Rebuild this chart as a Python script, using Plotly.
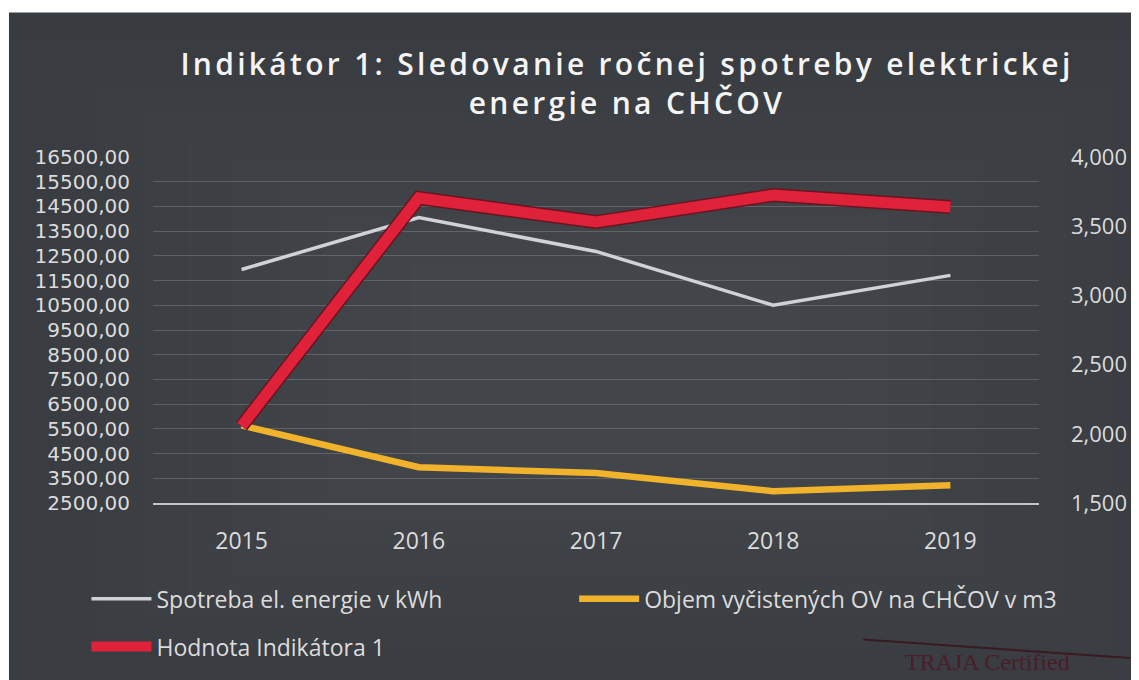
import plotly.graph_objects as go

# ---- data ----
years = ["2015", "2016", "2017", "2018", "2019"]
spotreba_kwh = [11950, 14050, 12680, 10500, 11710]
objem_m3 = [5640, 3950, 3710, 2980, 3220]
indikator = [2.056, 3.704, 3.530, 3.725, 3.639]

left_ticks = list(range(2500, 16501, 1000))
right_ticks = [1.5, 2.0, 2.5, 3.0, 3.5, 4.0]

name_spotreba = "Spotreba el. energie v kWh"
name_objem = "Objem vyčistených OV na CHČOV v m3"
name_ind = "Hodnota Indikátora 1"
title_line1 = "Indikátor 1: Sledovanie ročnej spotreby elektrickej"
title_line2 = "energie na CHČOV"

# ---- layout geometry (figure pixels; page adds an 8px body margin) ----
W, H = 1131, 672
L, R, T, B = 145, 1037, 149, 496
PW, PH = R - L, B - T


def fx(px):
    return (px - L) / PW


def fy(py):
    return (B - py) / PH


FONT = "Open Sans"
TXT = "#dcdcdc"
FS = 23

fig = go.Figure()

fig.add_trace(go.Scatter(
    x=years, y=spotreba_kwh, name=name_spotreba, mode="lines",
    line=dict(color="#cfd2d8", width=3.5), legend="legend"))

fig.add_trace(go.Scatter(
    x=years, y=objem_m3, name=name_objem, mode="lines",
    line=dict(color="#f1b32b", width=6.5), legend="legend2"))

# dark edge under the red line
fig.add_trace(go.Scatter(
    x=years, y=indikator, yaxis="y2", mode="lines", showlegend=False,
    hoverinfo="skip", line=dict(color="#6b1420", width=14)))

fig.add_trace(go.Scatter(
    x=years, y=indikator, name=name_ind, mode="lines", yaxis="y2",
    line=dict(color="#df2139", width=11), legend="legend3"))

shapes = [
    # dark chalkboard background (white scan border at top/left)
    dict(type="rect", xref="paper", yref="paper",
         x0=fx(0), x1=fx(W + 10), y0=fy(H + 10), y1=fy(4),
         fillcolor="#383b3f", line=dict(width=0), layer="below"),
]
# soft lighter centre (vignette), built from many faint nested rectangles
cx, cy = 600, 360
for i in range(10):
    hw = 600 - i * 45
    hh = 330 - i * 25
    shapes.append(dict(
        type="rect", xref="paper", yref="paper",
        x0=fx(cx - hw), x1=fx(cx + hw), y0=fy(cy + hh), y1=fy(cy - hh),
        fillcolor="rgba(255,255,255,0.009)", line=dict(width=0),
        layer="below"))
# stamp line (bottom right)
shapes.append(dict(type="line", xref="paper", yref="paper",
                   x0=fx(860), y0=fy(633), x1=fx(W + 5), y1=fy(652),
                   line=dict(color="#3a1a22", width=2), layer="above"))

title_html = ('<span style="letter-spacing:3.3px">' + title_line1 +
              '<br>' + title_line2 + '</span>')

legend_common = dict(orientation="h", xanchor="left", yanchor="middle",
                     itemwidth=60, bgcolor="rgba(0,0,0,0)",
                     font=dict(family=FONT, size=FS, color=TXT))

fig.update_layout(
    width=W, height=H,
    margin=dict(l=L, r=W - R, t=T, b=H - B, pad=0),
    paper_bgcolor="white",
    plot_bgcolor="rgba(0,0,0,0)",
    separators=",.",
    font=dict(family=FONT, color=TXT, size=FS),
    title=dict(
        text=title_html, xref="container", yref="container",
        x=619 / W, xanchor="center", y=1 - 67 / H, yanchor="top",
        font=dict(family=FONT, size=30, color="#f4f4f4", weight=600)),
    xaxis=dict(
        type="category", range=[-0.5, 4.5], showgrid=False, zeroline=False,
        showline=True, linecolor="#c4c4c4", linewidth=2,
        ticks="", ticklabelstandoff=16,
        tickfont=dict(family=FONT, size=FS, color=TXT)),
    yaxis=dict(
        range=[2500, 16500], tickvals=left_ticks, tickformat=".2f",
        showgrid=True, gridcolor="rgba(215,215,215,0.22)", gridwidth=1,
        zeroline=False, showline=False, ticks="", ticklabelstandoff=22,
        tickfont=dict(family="DejaVu Sans", size=20, color=TXT)),
    yaxis2=dict(
        range=[1.5, 4.0], tickvals=right_ticks, tickformat=".3f",
        overlaying="y", side="right", showgrid=False, zeroline=False,
        showline=False, ticks="", ticklabelstandoff=31,
        tickfont=dict(family=FONT, size=22, color=TXT)),
    legend=dict(x=fx(78), y=fy(592), **legend_common),
    legend2=dict(x=fx(569), y=fy(592), **legend_common),
    legend3=dict(x=fx(78), y=fy(640), **legend_common),
    shapes=shapes,
    annotations=[
        dict(text="TRAJA Certified", xref="paper", yref="paper",
             x=fx(900), y=fy(671), xanchor="left", yanchor="bottom",
             showarrow=False,
             font=dict(family="Liberation Serif", size=24, color="#4a1d28")),
    ],
    showlegend=True,
)

fig.write_html("out.html")
